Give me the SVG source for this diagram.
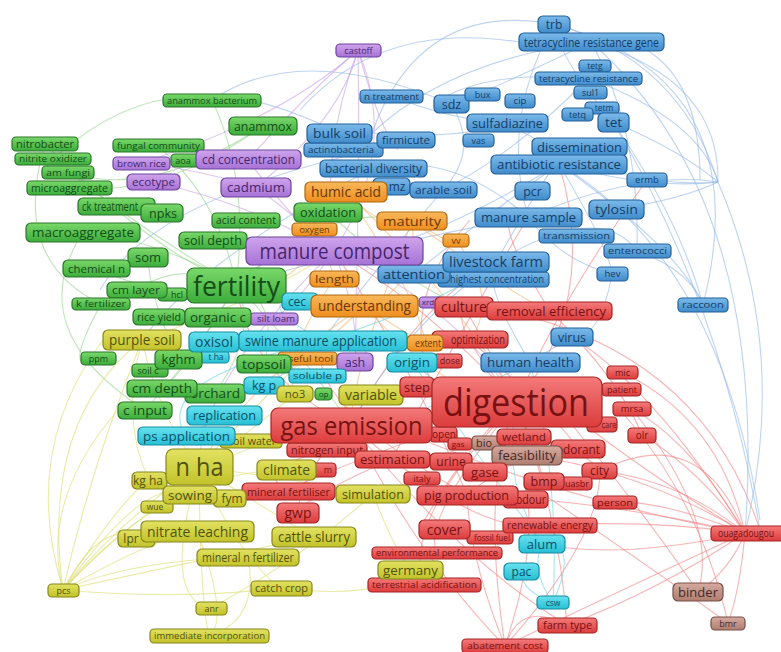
<svg xmlns="http://www.w3.org/2000/svg" width="781" height="652" viewBox="0 0 781 652">
<defs>
<linearGradient id="gR" x1="0" y1="0" x2="0" y2="1"><stop offset="0" stop-color="#f47a7a"/><stop offset="1" stop-color="#dc3c3c"/></linearGradient>
<linearGradient id="gB" x1="0" y1="0" x2="0" y2="1"><stop offset="0" stop-color="#7cbaea"/><stop offset="1" stop-color="#3f8bcb"/></linearGradient>
<linearGradient id="gG" x1="0" y1="0" x2="0" y2="1"><stop offset="0" stop-color="#7ad86a"/><stop offset="1" stop-color="#3bac3b"/></linearGradient>
<linearGradient id="gY" x1="0" y1="0" x2="0" y2="1"><stop offset="0" stop-color="#e2e262"/><stop offset="1" stop-color="#c2c22a"/></linearGradient>
<linearGradient id="gP" x1="0" y1="0" x2="0" y2="1"><stop offset="0" stop-color="#cfa4ec"/><stop offset="1" stop-color="#a672d6"/></linearGradient>
<linearGradient id="gO" x1="0" y1="0" x2="0" y2="1"><stop offset="0" stop-color="#f9b85a"/><stop offset="1" stop-color="#ef8e1e"/></linearGradient>
<linearGradient id="gC" x1="0" y1="0" x2="0" y2="1"><stop offset="0" stop-color="#66e2f0"/><stop offset="1" stop-color="#27bfd4"/></linearGradient>
<linearGradient id="gN" x1="0" y1="0" x2="0" y2="1"><stop offset="0" stop-color="#d6aaa0"/><stop offset="1" stop-color="#ae7e70"/></linearGradient>
</defs>
<style>
text{font-family:"Open Sans","Liberation Sans",sans-serif;text-anchor:middle}
rect{stroke-width:1.2}
.r rect{fill:url(#gR);stroke:#a52424}.r text{fill:#781212}
.b rect{fill:url(#gB);stroke:#23609a}.b text{fill:#143e68}
.g rect{fill:url(#gG);stroke:#287628}.g text{fill:#134d17}
.y rect{fill:url(#gY);stroke:#86861a}.y text{fill:#525210}
.p rect{fill:url(#gP);stroke:#6c449c}.p text{fill:#46266c}
.o rect{fill:url(#gO);stroke:#ad6810}.o text{fill:#683808}
.c rect{fill:url(#gC);stroke:#168ca0}.c text{fill:#0b5066}
.n rect{fill:url(#gN);stroke:#764e46}.n text{fill:#482824}
#edges path{fill:none;stroke-width:1.1;stroke-opacity:.6}
.er{stroke:#f08484}.eb{stroke:#92b8e6}.eg{stroke:#94d48c}.ey{stroke:#dcdc6e}.ep{stroke:#c9a0ea}.eo{stroke:#f4b46c}.ec{stroke:#6cd6e6}
</style>
<rect width="781" height="652" fill="#ffffff"/>
<g id="edges">
<path class="er" d="M745,533 Q640,470 560,405"/>
<path class="er" d="M745,533 Q680,480 600,471"/>
<path class="er" d="M745,533 Q700,470 642,435"/>
<path class="er" d="M745,533 Q690,440 632,409"/>
<path class="er" d="M745,533 Q560,500 400,430"/>
<path class="er" d="M745,533 Q650,520 550,525"/>
<path class="er" d="M745,533 Q730,570 698,592"/>
<path class="er" d="M745,533 Q740,590 728,623"/>
<path class="er" d="M745,533 Q600,500 470,495"/>
<path class="er" d="M745,533 Q640,470 527,455"/>
<path class="er" d="M745,533 Q660,500 615,502"/>
<path class="er" d="M745,533 Q660,590 567,625"/>
<path class="er" d="M745,533 Q600,600 505,646"/>
<path class="er" d="M745,533 Q620,560 542,544"/>
<path class="er" d="M745,533 Q650,380 560,330"/>
<path class="er" d="M745,533 Q720,420 622,372"/>
<path class="er" d="M500,310 Q700,350 760,530"/>
<path class="er" d="M560,410 Q650,520 698,592"/>
<path class="er" d="M620,410 Q700,500 728,623"/>
<path class="er" d="M632,409 Q720,520 698,592"/>
<path class="er" d="M517,402 Q470,440 420,528"/>
<path class="er" d="M517,402 Q480,480 505,646"/>
<path class="er" d="M517,402 Q560,520 567,625"/>
<path class="er" d="M517,402 Q400,520 424,585"/>
<path class="er" d="M517,402 Q420,520 437,553"/>
<path class="er" d="M517,402 Q300,480 288,491"/>
<path class="er" d="M517,402 Q450,330 464,307"/>
<path class="er" d="M351,425 Q420,560 505,646"/>
<path class="er" d="M351,425 Q460,560 567,625"/>
<path class="er" d="M351,425 Q480,540 550,525"/>
<path class="er" d="M351,425 Q300,470 298,513"/>
<path class="er" d="M467,495 Q420,380 334,251"/>
<path class="er" d="M517,402 Q420,300 334,251"/>
<path class="er" d="M550,311 Q480,200 528,217"/>
<path class="er" d="M467,495 Q560,420 600,471"/>
<path class="er" d="M505,646 Q470,560 467,495"/>
<path class="er" d="M505,646 Q540,540 524,481"/>
<path class="er" d="M505,646 Q600,540 600,471"/>
<path class="er" d="M567,625 Q520,600 505,646"/>
<path class="er" d="M430,380 Q400,300 470,220"/>
<path class="er" d="M392,459 Q300,500 298,513"/>
<path class="er" d="M327,450 Q250,470 288,491"/>
<path class="er" d="M550,311 Q620,380 642,435"/>
<path class="er" d="M470,340 Q560,420 578,449"/>
<path class="er" d="M464,307 Q520,400 544,481"/>
<path class="er" d="M351,425 Q250,380 236,285"/>
<path class="er" d="M351,425 Q420,300 496,262"/>
<path class="er" d="M467,495 Q300,400 323,341"/>
<path class="er" d="M517,402 Q600,300 559,164"/>
<path class="er" d="M392,459 Q450,350 528,217"/>
<path class="er" d="M517,402 Q560,300 647,180"/>
<path class="er" d="M600,471 Q700,420 745,533"/>
<path class="er" d="M524,481 Q640,560 728,623"/>
<path class="eb" d="M554,24 Q680,60 718,182"/>
<path class="eb" d="M591,42 Q720,80 718,182"/>
<path class="eb" d="M588,78 Q700,120 718,182"/>
<path class="eb" d="M559,164 Q650,190 718,182"/>
<path class="eb" d="M613,122 Q680,150 718,182"/>
<path class="eb" d="M616,209 Q680,200 718,182"/>
<path class="eb" d="M507,123 Q620,190 718,182"/>
<path class="eb" d="M528,217 Q640,170 718,182"/>
<path class="eb" d="M519,42 Q380,20 300,110"/>
<path class="eb" d="M554,24 Q420,0 372,133"/>
<path class="eb" d="M591,42 Q450,60 372,133"/>
<path class="eb" d="M591,42 Q470,100 451,104"/>
<path class="eb" d="M588,78 Q480,70 434,104"/>
<path class="eb" d="M613,122 Q560,60 554,24"/>
<path class="eb" d="M613,122 Q680,220 703,305"/>
<path class="eb" d="M559,164 Q680,250 703,305"/>
<path class="eb" d="M637,251 Q690,270 703,305"/>
<path class="eb" d="M559,164 Q610,250 612,274"/>
<path class="eb" d="M496,262 Q600,200 637,251"/>
<path class="eb" d="M528,217 Q560,260 612,274"/>
<path class="eb" d="M496,262 Q560,150 559,164"/>
<path class="eb" d="M372,133 Q460,140 507,123"/>
<path class="eb" d="M392,96 Q450,120 507,123"/>
<path class="eb" d="M373,168 Q450,150 528,217"/>
<path class="eb" d="M451,104 Q480,150 443,190"/>
<path class="eb" d="M559,164 Q480,220 414,274"/>
<path class="eb" d="M530,362 Q600,320 572,337"/>
<path class="eb" d="M530,362 Q480,280 496,262"/>
<path class="eb" d="M718,182 Q790,350 745,533"/>
<path class="eb" d="M340,133 Q250,90 212,100"/>
<path class="eb" d="M372,150 Q150,200 100,290"/>
<path class="eb" d="M373,168 Q200,260 142,340"/>
<path class="eb" d="M588,78 Q520,150 443,190"/>
<path class="eb" d="M591,42 Q640,130 637,251"/>
<path class="eb" d="M554,24 Q500,120 528,217"/>
<path class="eb" d="M612,274 Q600,340 572,337"/>
<path class="eb" d="M519,42 Q700,0 700,180"/>
<path class="eb" d="M554,24 Q760,80 703,305"/>
<path class="eb" d="M591,42 Q770,200 745,533"/>
<path class="eb" d="M613,122 Q720,300 760,530"/>
<path class="eb" d="M559,164 Q720,260 760,520"/>
<path class="eb" d="M496,262 Q400,330 351,425"/>
<path class="eb" d="M530,362 Q420,420 351,425"/>
<path class="eb" d="M528,217 Q350,250 236,285"/>
<path class="eb" d="M443,190 Q350,300 323,341"/>
<path class="eb" d="M559,164 Q400,260 334,251"/>
<path class="eb" d="M451,104 Q300,40 212,100"/>
<path class="eg" d="M53,159 Q140,80 230,102"/>
<path class="eg" d="M45,144 Q150,250 236,285"/>
<path class="eg" d="M53,159 Q140,230 236,285"/>
<path class="eg" d="M68,172 Q150,200 263,126"/>
<path class="eg" d="M70,187 Q160,200 263,126"/>
<path class="eg" d="M83,232 Q160,240 236,285"/>
<path class="eg" d="M96,268 Q160,300 236,285"/>
<path class="eg" d="M137,290 Q180,260 236,285"/>
<path class="eg" d="M158,146 Q220,200 236,285"/>
<path class="eg" d="M328,212 Q280,250 236,285"/>
<path class="eg" d="M236,285 Q180,380 162,388"/>
<path class="eg" d="M236,285 Q200,350 145,410"/>
<path class="eg" d="M83,232 Q20,330 145,410"/>
<path class="eg" d="M178,358 Q150,300 148,257"/>
<path class="eg" d="M215,393 Q260,330 236,285"/>
<path class="eg" d="M264,364 Q280,300 236,285"/>
<path class="eg" d="M212,100 Q250,180 236,285"/>
<path class="eg" d="M101,304 Q60,380 98,358"/>
<path class="eg" d="M45,144 Q10,260 101,304"/>
<path class="eg" d="M236,285 Q300,350 351,425"/>
<path class="eg" d="M236,285 Q330,200 412,221"/>
<path class="eg" d="M328,212 Q400,280 464,307"/>
<path class="ey" d="M63,590 Q120,520 199,467"/>
<path class="ey" d="M63,590 Q150,540 197,531"/>
<path class="ey" d="M63,590 Q100,520 136,538"/>
<path class="ey" d="M63,590 Q120,500 149,480"/>
<path class="ey" d="M63,590 Q130,560 248,557"/>
<path class="ey" d="M63,590 Q180,600 281,588"/>
<path class="ey" d="M63,590 Q200,560 314,537"/>
<path class="ey" d="M63,590 Q150,470 190,495"/>
<path class="ey" d="M63,590 Q170,470 286,470"/>
<path class="ey" d="M63,590 Q90,470 142,340"/>
<path class="ey" d="M63,590 Q110,540 157,507"/>
<path class="ey" d="M63,590 Q20,450 103,340"/>
<path class="ey" d="M63,590 Q40,500 118,410"/>
<path class="ey" d="M199,467 Q240,560 281,588"/>
<path class="ey" d="M199,467 Q160,600 211,608"/>
<path class="ey" d="M199,467 Q200,600 209,636"/>
<path class="ey" d="M197,531 Q230,620 209,636"/>
<path class="ey" d="M248,557 Q260,620 209,636"/>
<path class="ey" d="M199,467 Q300,480 373,494"/>
<path class="ey" d="M199,467 Q300,530 314,537"/>
<path class="ey" d="M142,340 Q160,420 199,467"/>
<path class="ey" d="M142,340 Q120,420 149,480"/>
<path class="ey" d="M295,394 Q240,440 199,467"/>
<path class="ey" d="M371,395 Q280,440 199,467"/>
<path class="ey" d="M373,494 Q390,540 410,570"/>
<path class="ey" d="M142,340 Q40,420 63,590"/>
<path class="ey" d="M211,608 Q300,560 373,494"/>
<path class="ey" d="M281,588 Q380,600 410,570"/>
<path class="ey" d="M199,467 Q280,380 323,341"/>
<path class="ey" d="M142,340 Q260,300 334,251"/>
<path class="ep" d="M358,50 Q320,150 334,251"/>
<path class="ep" d="M358,50 Q340,120 256,187"/>
<path class="ep" d="M358,50 Q300,100 248,160"/>
<path class="ep" d="M358,50 Q400,150 334,251"/>
<path class="ep" d="M358,50 Q360,150 355,362"/>
<path class="ep" d="M358,50 Q280,120 141,163"/>
<path class="ep" d="M358,50 Q380,130 398,150"/>
<path class="ep" d="M256,187 Q300,220 334,251"/>
<path class="ep" d="M248,160 Q300,230 334,251"/>
<path class="ep" d="M153,182 Q240,200 334,251"/>
<path class="ep" d="M334,251 Q300,300 274,319"/>
<path class="ep" d="M334,251 Q360,320 355,362"/>
<path class="ep" d="M141,163 Q200,170 256,187"/>
<path class="ep" d="M334,251 Q450,300 517,402"/>
<path class="ep" d="M334,251 Q200,380 199,467"/>
<path class="eo" d="M346,192 Q380,230 412,221"/>
<path class="eo" d="M412,221 Q420,290 364,306"/>
<path class="eo" d="M364,306 Q400,330 425,343"/>
<path class="eo" d="M346,192 Q420,300 425,343"/>
<path class="eo" d="M314,229 Q330,260 334,279"/>
<path class="eo" d="M412,221 Q480,260 456,240"/>
<path class="eo" d="M307,358 Q340,330 364,306"/>
<path class="eo" d="M364,306 Q450,400 517,402"/>
<path class="eo" d="M346,192 Q460,300 517,402"/>
<path class="eo" d="M412,221 Q520,300 550,311"/>
<path class="eo" d="M334,279 Q280,360 295,394"/>
<path class="eo" d="M456,240 Q500,300 470,340"/>
<path class="eo" d="M346,192 Q300,300 236,285"/>
<path class="eo" d="M412,221 Q350,380 351,425"/>
<path class="eo" d="M364,306 Q250,380 199,467"/>
<path class="ec" d="M553,603 Q530,570 542,544"/>
<path class="ec" d="M553,603 Q520,590 521,571"/>
<path class="ec" d="M553,603 Q580,540 542,544"/>
<path class="ec" d="M542,544 Q500,480 517,402"/>
<path class="ec" d="M323,341 Q280,380 264,385"/>
<path class="ec" d="M323,341 Q250,300 300,301"/>
<path class="ec" d="M214,342 Q260,330 323,341"/>
<path class="ec" d="M186,436 Q250,400 224,415"/>
<path class="ec" d="M412,362 Q360,330 323,341"/>
<path class="ec" d="M542,544 Q460,430 412,362"/>
<path class="ec" d="M323,341 Q150,380 186,436"/>
<path class="ec" d="M553,603 Q560,480 530,362"/>
<path class="ec" d="M323,341 Q450,300 496,262"/>
<path class="ec" d="M412,362 Q480,420 517,402"/>
</g>
<g id="nodes">
<g id="n-trb" class="b"><rect x="538" y="16" width="32" height="17" rx="5"/><text x="554" y="28.8" font-size="12">trb</text></g>
<g id="n-tetracycline-resistance-gene" class="b"><rect x="519" y="33" width="145" height="18" rx="5"/><text x="591.5" y="46.5" font-size="12.5" textLength="135" lengthAdjust="spacingAndGlyphs">tetracycline resistance gene</text></g>
<g id="n-tetg" class="b"><rect x="579" y="60" width="32" height="12" rx="4"/><text x="595" y="69.1" font-size="8.5">tetg</text></g>
<g id="n-tetracycline-resistance" class="b"><rect x="535" y="72" width="107" height="13" rx="4"/><text x="588.5" y="81.7" font-size="9" textLength="99" lengthAdjust="spacingAndGlyphs">tetracycline resistance</text></g>
<g id="n-sul1" class="b"><rect x="574" y="86" width="33" height="13" rx="4"/><text x="590.5" y="95.7" font-size="9">sul1</text></g>
<g id="n-tetm" class="b"><rect x="585" y="102" width="34" height="12" rx="4"/><text x="604" y="110.6" font-size="8.5">tetm</text></g>
<g id="n-tetq" class="b"><rect x="562" y="108" width="31" height="13" rx="4"/><text x="577.5" y="117.7" font-size="9">tetq</text></g>
<g id="n-tet" class="b"><rect x="598" y="113" width="31" height="19" rx="5"/><text x="613.5" y="127.4" font-size="13.5">tet</text></g>
<g id="n-n-treatment" class="b"><rect x="360" y="90" width="63" height="13" rx="4"/><text x="391.5" y="99.7" font-size="9" textLength="55" lengthAdjust="spacingAndGlyphs">n treatment</text></g>
<g id="n-sdz" class="b"><rect x="434" y="95" width="35" height="18" rx="5"/><text x="451.5" y="108.5" font-size="12.5">sdz</text></g>
<g id="n-bux" class="b"><rect x="465" y="88" width="35" height="13" rx="4"/><text x="482.5" y="97.7" font-size="9">bux</text></g>
<g id="n-cip" class="b"><rect x="505" y="94" width="30" height="14" rx="4"/><text x="520" y="104.4" font-size="9.5">cip</text></g>
<g id="n-sulfadiazine" class="b"><rect x="467" y="114" width="81" height="18" rx="5"/><text x="507.5" y="127.5" font-size="12.5" textLength="71" lengthAdjust="spacingAndGlyphs">sulfadiazine</text></g>
<g id="n-vas" class="b"><rect x="463" y="134" width="31" height="13" rx="4"/><text x="478.5" y="143.7" font-size="9">vas</text></g>
<g id="n-dissemination" class="b"><rect x="532" y="138" width="95" height="18" rx="5"/><text x="579.5" y="151.5" font-size="12.5" textLength="85" lengthAdjust="spacingAndGlyphs">dissemination</text></g>
<g id="n-antibiotic-resistance" class="b"><rect x="491" y="155" width="136" height="19" rx="5"/><text x="559" y="169.4" font-size="13.5" textLength="124" lengthAdjust="spacingAndGlyphs">antibiotic resistance</text></g>
<g id="n-actinobacteria" class="b"><rect x="304" y="143" width="79" height="14" rx="4"/><text x="341" y="153.4" font-size="9.5" textLength="66" lengthAdjust="spacingAndGlyphs">actinobacteria</text></g>
<g id="n-bulk-soil" class="b"><rect x="307" y="124" width="65" height="19" rx="5"/><text x="339.5" y="138.4" font-size="13.5" textLength="53" lengthAdjust="spacingAndGlyphs">bulk soil</text></g>
<g id="n-firmicute" class="b"><rect x="377" y="132" width="58" height="16" rx="5"/><text x="406" y="144" font-size="11" textLength="48" lengthAdjust="spacingAndGlyphs">firmicute</text></g>
<g id="n-bacterial-diversity" class="b"><rect x="320" y="160" width="107" height="17" rx="5"/><text x="373.5" y="172.8" font-size="12" textLength="97" lengthAdjust="spacingAndGlyphs">bacterial diversity</text></g>
<g id="n-mz" class="b"><rect x="373" y="178" width="37" height="17" rx="5"/><text x="397" y="190.8" font-size="12">mz</text></g>
<g id="n-arable-soil" class="b"><rect x="410" y="182" width="67" height="16" rx="5"/><text x="443.5" y="194" font-size="11" textLength="57" lengthAdjust="spacingAndGlyphs">arable soil</text></g>
<g id="n-pcr" class="b"><rect x="515" y="182" width="35" height="18" rx="5"/><text x="532.5" y="195.5" font-size="12.5">pcr</text></g>
<g id="n-ermb" class="b"><rect x="627" y="173" width="40" height="14" rx="4"/><text x="647" y="183.4" font-size="9.5">ermb</text></g>
<g id="n-manure-sample" class="b"><rect x="475" y="208" width="107" height="19" rx="5"/><text x="528.5" y="222.4" font-size="13.5" textLength="95" lengthAdjust="spacingAndGlyphs">manure sample</text></g>
<g id="n-tylosin" class="b"><rect x="589" y="200" width="55" height="19" rx="5"/><text x="616.5" y="214.4" font-size="13.5" textLength="43" lengthAdjust="spacingAndGlyphs">tylosin</text></g>
<g id="n-transmission" class="b"><rect x="539" y="229" width="75" height="14" rx="4"/><text x="576.5" y="239.4" font-size="9.5" textLength="67" lengthAdjust="spacingAndGlyphs">transmission</text></g>
<g id="n-enterococci" class="b"><rect x="604" y="244" width="67" height="14" rx="4"/><text x="637.5" y="254.4" font-size="9.5" textLength="59" lengthAdjust="spacingAndGlyphs">enterococci</text></g>
<g id="n-highest-concentration" class="b"><rect x="438" y="272" width="111" height="15" rx="4"/><text x="497" y="283.1" font-size="10" textLength="94" lengthAdjust="spacingAndGlyphs">highest concentration</text></g>
<g id="n-attention" class="b"><rect x="378" y="265" width="72" height="18" rx="5"/><text x="414" y="278.5" font-size="12.5" textLength="62" lengthAdjust="spacingAndGlyphs">attention</text></g>
<g id="n-livestock-farm" class="b"><rect x="443" y="252" width="106" height="20" rx="5"/><text x="496" y="267" font-size="14" textLength="94" lengthAdjust="spacingAndGlyphs">livestock farm</text></g>
<g id="n-hev" class="b"><rect x="597" y="267" width="31" height="14" rx="4"/><text x="612.5" y="277.4" font-size="9.5">hev</text></g>
<g id="n-raccoon" class="b"><rect x="678" y="298" width="50" height="14" rx="4"/><text x="703" y="308.4" font-size="9.5" textLength="42" lengthAdjust="spacingAndGlyphs">raccoon</text></g>
<g id="n-virus" class="b"><rect x="551" y="328" width="42" height="18" rx="5"/><text x="572" y="341.5" font-size="12.5">virus</text></g>
<g id="n-human-health" class="b"><rect x="481" y="353" width="99" height="19" rx="5"/><text x="530.5" y="367.4" font-size="13.5" textLength="87" lengthAdjust="spacingAndGlyphs">human health</text></g>

<g id="n-anammox-bacterium" class="g"><rect x="163" y="94" width="98" height="13" rx="4"/><text x="212" y="103.7" font-size="9" textLength="90" lengthAdjust="spacingAndGlyphs">anammox bacterium</text></g>
<g id="n-anammox" class="g"><rect x="229" y="117" width="68" height="18" rx="5"/><text x="263" y="130.5" font-size="12.5" textLength="58" lengthAdjust="spacingAndGlyphs">anammox</text></g>
<g id="n-nitrobacter" class="g"><rect x="12" y="137" width="66" height="14" rx="4"/><text x="45" y="147.6" font-size="10" textLength="58" lengthAdjust="spacingAndGlyphs">nitrobacter</text></g>
<g id="n-nitrite-oxidizer" class="g"><rect x="15" y="153" width="76" height="12" rx="4"/><text x="53" y="162.1" font-size="8.5" textLength="68" lengthAdjust="spacingAndGlyphs">nitrite oxidizer</text></g>
<g id="n-fungal-community" class="g"><rect x="113" y="139" width="91" height="13" rx="4"/><text x="158.5" y="148.7" font-size="9" textLength="83" lengthAdjust="spacingAndGlyphs">fungal community</text></g>
<g id="n-aoa" class="g"><rect x="171" y="154" width="30" height="13" rx="4"/><text x="183" y="163.7" font-size="9">aoa</text></g>
<g id="n-am-fungi" class="g"><rect x="42" y="166" width="52" height="13" rx="4"/><text x="68" y="175.7" font-size="9" textLength="44" lengthAdjust="spacingAndGlyphs">am fungi</text></g>
<g id="n-microaggregate" class="g"><rect x="27" y="181" width="85" height="14" rx="4"/><text x="69.5" y="191.6" font-size="10" textLength="77" lengthAdjust="spacingAndGlyphs">microaggregate</text></g>
<g id="n-ck-treatment" class="g"><rect x="78" y="198" width="77" height="17" rx="5"/><text x="110" y="210.8" font-size="12" textLength="56" lengthAdjust="spacingAndGlyphs">ck treatment</text></g>
<g id="n-npks" class="g"><rect x="141" y="204" width="42" height="18" rx="5"/><text x="163" y="217.5" font-size="12.5">npks</text></g>
<g id="n-macroaggregate" class="g"><rect x="26" y="223" width="114" height="19" rx="5"/><text x="83" y="237.4" font-size="13.5" textLength="102" lengthAdjust="spacingAndGlyphs">macroaggregate</text></g>
<g id="n-acid-content" class="g"><rect x="212" y="213" width="68" height="15" rx="4"/><text x="246" y="224.1" font-size="10" textLength="60" lengthAdjust="spacingAndGlyphs">acid content</text></g>
<g id="n-soil-depth" class="g"><rect x="179" y="232" width="68" height="17" rx="5"/><text x="213" y="244.8" font-size="12" textLength="58" lengthAdjust="spacingAndGlyphs">soil depth</text></g>
<g id="n-oxidation" class="g"><rect x="294" y="203" width="68" height="19" rx="5"/><text x="328" y="217.2" font-size="13" textLength="56" lengthAdjust="spacingAndGlyphs">oxidation</text></g>
<g id="n-som" class="g"><rect x="128" y="248" width="40" height="19" rx="5"/><text x="148" y="262.2" font-size="13">som</text></g>
<g id="n-chemical-n" class="g"><rect x="63" y="260" width="67" height="17" rx="5"/><text x="96.5" y="272.6" font-size="11.5" textLength="57" lengthAdjust="spacingAndGlyphs">chemical n</text></g>
<g id="n-hcl" class="g"><rect x="158" y="288" width="29" height="13" rx="4"/><text x="177" y="297.7" font-size="9">hcl</text></g>
<g id="n-cm-layer" class="g"><rect x="107" y="282" width="60" height="16" rx="5"/><text x="136" y="294" font-size="11" textLength="48" lengthAdjust="spacingAndGlyphs">cm layer</text></g>
<g id="n-k-fertilizer" class="g"><rect x="72" y="298" width="58" height="12" rx="4"/><text x="101" y="307.1" font-size="8.5" textLength="50" lengthAdjust="spacingAndGlyphs">k fertilizer</text></g>
<g id="n-rice-yield" class="g"><rect x="133" y="309" width="52" height="16" rx="5"/><text x="159" y="321" font-size="11" textLength="44" lengthAdjust="spacingAndGlyphs">rice yield</text></g>
<g id="n-silt-loam" class="p"><rect x="250" y="313" width="48" height="12" rx="4"/><text x="276" y="322.1" font-size="8.5" textLength="38" lengthAdjust="spacingAndGlyphs">silt loam</text></g>
<g id="n-organic-c" class="g"><rect x="185" y="308" width="66" height="19" rx="5"/><text x="218" y="322.2" font-size="13" textLength="56" lengthAdjust="spacingAndGlyphs">organic c</text></g>
<g id="n-fertility" class="g"><rect x="187" y="268" width="99" height="35" rx="7"/><text x="236.5" y="295.5" font-size="28" textLength="87" lengthAdjust="spacingAndGlyphs">fertility</text></g>
<g id="n-ppm" class="g"><rect x="81" y="352" width="35" height="13" rx="4"/><text x="98.5" y="361.7" font-size="9">ppm</text></g>
<g id="n-soil-c" class="g"><rect x="132" y="364" width="36" height="13" rx="4"/><text x="148" y="373.7" font-size="9">soil c</text></g>
<g id="n-t-ha" class="c"><rect x="200" y="351" width="29" height="12" rx="4"/><text x="216" y="360.1" font-size="8.5">t ha</text></g>
<g id="n-kghm" class="g"><rect x="155" y="350" width="47" height="19" rx="5"/><text x="178.5" y="364.2" font-size="13">kghm</text></g>
<g id="n-useful-tool" class="o"><rect x="278" y="352" width="59" height="13" rx="4"/><text x="307.5" y="361.7" font-size="9" textLength="51" lengthAdjust="spacingAndGlyphs">useful tool</text></g>
<g id="n-topsoil" class="g"><rect x="237" y="355" width="54" height="18" rx="5"/><text x="264" y="368.5" font-size="12.5" textLength="44" lengthAdjust="spacingAndGlyphs">topsoil</text></g>
<g id="n-op" class="g"><rect x="315" y="388" width="17" height="12" rx="4"/><text x="323.5" y="396.9" font-size="8">op</text></g>
<g id="n-orchard" class="g"><rect x="185" y="384" width="60" height="19" rx="5"/><text x="215" y="398.2" font-size="13" textLength="50" lengthAdjust="spacingAndGlyphs">orchard</text></g>
<g id="n-cm-depth" class="g"><rect x="127" y="380" width="70" height="17" rx="5"/><text x="162" y="392.8" font-size="12" textLength="60" lengthAdjust="spacingAndGlyphs">cm depth</text></g>
<g id="n-c-input" class="g"><rect x="118" y="402" width="54" height="17" rx="5"/><text x="145" y="414.8" font-size="12" textLength="44" lengthAdjust="spacingAndGlyphs">c input</text></g>

<g id="n-castoff" class="p"><rect x="336" y="44" width="45" height="13" rx="4"/><text x="358.5" y="53.7" font-size="9">castoff</text></g>
<g id="n-brown-rice" class="p"><rect x="113" y="157" width="57" height="13" rx="4"/><text x="141.5" y="166.7" font-size="9" textLength="49" lengthAdjust="spacingAndGlyphs">brown rice</text></g>
<g id="n-cd-concentration" class="p"><rect x="196" y="150" width="105" height="19" rx="5"/><text x="248.5" y="164.4" font-size="13.5" textLength="93" lengthAdjust="spacingAndGlyphs">cd concentration</text></g>
<g id="n-ecotype" class="p"><rect x="127" y="174" width="53" height="16" rx="5"/><text x="153.5" y="186" font-size="11" textLength="43" lengthAdjust="spacingAndGlyphs">ecotype</text></g>
<g id="n-cadmium" class="p"><rect x="221" y="178" width="70" height="19" rx="5"/><text x="256" y="192.4" font-size="13.5" textLength="58" lengthAdjust="spacingAndGlyphs">cadmium</text></g>
<g id="n-xrd" class="p"><rect x="419" y="297" width="24" height="11" rx="4"/><text x="428" y="305.4" font-size="8">xrd</text></g>
<g id="n-ash" class="p"><rect x="337" y="353" width="36" height="18" rx="5"/><text x="355" y="366.5" font-size="12.5">ash</text></g>

<g id="n-humic-acid" class="o"><rect x="305" y="182" width="82" height="20" rx="5"/><text x="346" y="197" font-size="14" textLength="70" lengthAdjust="spacingAndGlyphs">humic acid</text></g>
<g id="n-maturity" class="o"><rect x="377" y="212" width="70" height="18" rx="5"/><text x="412" y="225.7" font-size="13" textLength="58" lengthAdjust="spacingAndGlyphs">maturity</text></g>
<g id="n-oxygen" class="o"><rect x="292" y="223" width="45" height="13" rx="4"/><text x="314.5" y="232.7" font-size="9">oxygen</text></g>
<g id="n-vv" class="o"><rect x="443" y="234" width="26" height="13" rx="4"/><text x="456" y="243.7" font-size="9">vv</text></g>
<g id="n-manure-compost" class="p"><rect x="246" y="237" width="177" height="28" rx="6"/><text x="334.5" y="258.6" font-size="21" textLength="150" lengthAdjust="spacingAndGlyphs">manure compost</text></g>
<g id="n-length" class="o"><rect x="310" y="271" width="49" height="16" rx="5"/><text x="334.5" y="283" font-size="11" textLength="39" lengthAdjust="spacingAndGlyphs">length</text></g>
<g id="n-cec" class="c"><rect x="282" y="293" width="36" height="17" rx="5"/><text x="297" y="305.8" font-size="12">cec</text></g>
<g id="n-understanding" class="o"><rect x="311" y="295" width="107" height="22" rx="6"/><text x="364.5" y="311.4" font-size="15" textLength="93" lengthAdjust="spacingAndGlyphs">understanding</text></g>
<g id="n-optimization" class="r"><rect x="432" y="331" width="76" height="17" rx="5"/><text x="478" y="343.8" font-size="12" textLength="54" lengthAdjust="spacingAndGlyphs">optimization</text></g>
<g id="n-extent" class="o"><rect x="407" y="335" width="36" height="16" rx="5"/><text x="428" y="347" font-size="11" textLength="26" lengthAdjust="spacingAndGlyphs">extent</text></g>

<g id="n-oxisol" class="c"><rect x="189" y="332" width="50" height="20" rx="5"/><text x="214" y="347" font-size="14">oxisol</text></g>
<g id="n-swine-manure-application" class="c"><rect x="239" y="331" width="168" height="20" rx="5"/><text x="321" y="346.2" font-size="14.5" textLength="152" lengthAdjust="spacingAndGlyphs">swine manure application</text></g>
<g id="n-dose" class="r"><rect x="433" y="354" width="29" height="14" rx="4"/><text x="450" y="364.2" font-size="9">dose</text></g>
<g id="n-origin" class="c"><rect x="387" y="353" width="50" height="19" rx="5"/><text x="412" y="367.4" font-size="13.5">origin</text></g>
<g id="n-soluble-p" class="c"><rect x="289" y="369" width="57" height="14" rx="4"/><text x="317.5" y="379.4" font-size="9.5" textLength="49" lengthAdjust="spacingAndGlyphs">soluble p</text></g>
<g id="n-kg-p" class="c"><rect x="244" y="377" width="40" height="17" rx="5"/><text x="264" y="389.9" font-size="12.5">kg p</text></g>
<g id="n-replication" class="c"><rect x="187" y="406" width="75" height="19" rx="5"/><text x="224.5" y="420.4" font-size="13.5" textLength="63" lengthAdjust="spacingAndGlyphs">replication</text></g>

<g id="n-purple-soil" class="y"><rect x="103" y="330" width="78" height="20" rx="5"/><text x="142" y="345" font-size="14" textLength="66" lengthAdjust="spacingAndGlyphs">purple soil</text></g>
<g id="n-no3" class="y"><rect x="277" y="386" width="36" height="16" rx="5"/><text x="295" y="398.1" font-size="11.5">no3</text></g>
<g id="n-variable" class="y"><rect x="339" y="385" width="64" height="20" rx="5"/><text x="371" y="400" font-size="14" textLength="52" lengthAdjust="spacingAndGlyphs">variable</text></g>
<g id="n-soil-water" class="y"><rect x="220" y="434" width="62" height="14" rx="4"/><text x="252" y="444.6" font-size="10" textLength="48" lengthAdjust="spacingAndGlyphs">soil water</text></g>
<g id="n-ps-application" class="c"><rect x="138" y="427" width="97" height="18" rx="5"/><text x="186.5" y="440.7" font-size="13" textLength="87" lengthAdjust="spacingAndGlyphs">ps application</text></g>

<g id="n-step" class="r"><rect x="400" y="377" width="34" height="20" rx="5"/><text x="417" y="391.7" font-size="13">step</text></g>
<g id="n-mic" class="r"><rect x="607" y="366" width="31" height="13" rx="4"/><text x="622.5" y="375.7" font-size="9">mic</text></g>
<g id="n-patient" class="r"><rect x="602" y="383" width="39" height="13" rx="4"/><text x="622" y="392.7" font-size="9">patient</text></g>
<g id="n-mrsa" class="r"><rect x="613" y="402" width="38" height="14" rx="4"/><text x="632" y="412.4" font-size="9.5">mrsa</text></g>
<g id="n-care" class="r"><rect x="587" y="417" width="30" height="15" rx="4"/><text x="609" y="428.2" font-size="9" textLength="15" lengthAdjust="spacingAndGlyphs">care</text></g>
<g id="n-olr" class="r"><rect x="628" y="428" width="28" height="15" rx="4"/><text x="642" y="439.1" font-size="10">olr</text></g>
<g id="n-open" class="r"><rect x="430" y="427" width="27" height="15" rx="4"/><text x="444" y="438.1" font-size="10">open</text></g>
<g id="n-gas" class="r"><rect x="448" y="438" width="24" height="12" rx="4"/><text x="458" y="446.9" font-size="8">gas</text></g>
<g id="n-digestion" class="r"><rect x="432" y="377" width="170" height="50" rx="8"/><text x="516" y="415.7" font-size="38" textLength="146" lengthAdjust="spacingAndGlyphs">digestion</text></g>
<g id="n-bio" class="n"><rect x="472" y="436" width="33" height="14" rx="4"/><text x="484" y="447" font-size="11">bio</text></g>
<g id="n-wetland" class="r"><rect x="497" y="429" width="54" height="16" rx="5"/><text x="524" y="441" font-size="11" textLength="44" lengthAdjust="spacingAndGlyphs">wetland</text></g>
<g id="n-odorant" class="r"><rect x="551" y="440" width="54" height="18" rx="5"/><text x="578" y="453.5" font-size="12.5" textLength="44" lengthAdjust="spacingAndGlyphs">odorant</text></g>
<g id="n-feasibility" class="n"><rect x="492" y="446" width="70" height="19" rx="5"/><text x="527" y="460.4" font-size="13.5" textLength="58" lengthAdjust="spacingAndGlyphs">feasibility</text></g>
<g id="n-nitrogen-input" class="r"><rect x="287" y="443" width="80" height="14" rx="4"/><text x="327" y="453.6" font-size="10" textLength="72" lengthAdjust="spacingAndGlyphs">nitrogen input</text></g>
<g id="n-gas-emission" class="r"><rect x="271" y="408" width="161" height="35" rx="7"/><text x="351.5" y="434.5" font-size="25" textLength="142" lengthAdjust="spacingAndGlyphs">gas emission</text></g>
<g id="n-estimation" class="r"><rect x="355" y="451" width="75" height="17" rx="5"/><text x="392.5" y="464" font-size="12.5" textLength="65" lengthAdjust="spacingAndGlyphs">estimation</text></g>
<g id="n-urine" class="r"><rect x="430" y="453" width="42" height="17" rx="5"/><text x="451" y="465.8" font-size="12">urine</text></g>
<g id="n-gase" class="r"><rect x="463" y="463" width="44" height="18" rx="5"/><text x="485" y="476.7" font-size="13">gase</text></g>
<g id="n-m" class="r"><rect x="310" y="463" width="26" height="14" rx="4"/><text x="328" y="473.2" font-size="9">m</text></g>
<g id="n-italy" class="r"><rect x="404" y="472" width="36" height="13" rx="4"/><text x="422" y="481.7" font-size="9">italy</text></g>
<g id="n-city" class="r"><rect x="582" y="463" width="35" height="16" rx="5"/><text x="599.5" y="475.3" font-size="12">city</text></g>
<g id="n-uasbr" class="r"><rect x="557" y="477" width="35" height="13" rx="4"/><text x="577" y="486.7" font-size="9">uasbr</text></g>
<g id="n-bmp" class="r"><rect x="524" y="473" width="40" height="17" rx="5"/><text x="544" y="486" font-size="12.5">bmp</text></g>
<g id="n-mineral-fertiliser" class="r"><rect x="242" y="483" width="93" height="17" rx="5"/><text x="288.5" y="495.6" font-size="11.5" textLength="83" lengthAdjust="spacingAndGlyphs">mineral fertiliser</text></g>
<g id="n-odour" class="r"><rect x="503" y="491" width="45" height="17" rx="5"/><text x="531" y="503.8" font-size="12" textLength="30" lengthAdjust="spacingAndGlyphs">odour</text></g>
<g id="n-pig-production" class="r"><rect x="417" y="486" width="101" height="19" rx="5"/><text x="466.5" y="500.4" font-size="13.5" textLength="85" lengthAdjust="spacingAndGlyphs">pig production</text></g>
<g id="n-person" class="r"><rect x="593" y="496" width="44" height="13" rx="4"/><text x="615" y="505.7" font-size="9" textLength="36" lengthAdjust="spacingAndGlyphs">person</text></g>
<g id="n-gwp" class="r"><rect x="277" y="503" width="42" height="20" rx="5"/><text x="298" y="518" font-size="14">gwp</text></g>
<g id="n-fossil-fuel" class="r"><rect x="467" y="531" width="46" height="13" rx="4"/><text x="492" y="540.7" font-size="9" textLength="36" lengthAdjust="spacingAndGlyphs">fossil fuel</text></g>
<g id="n-renewable-energy" class="r"><rect x="503" y="518" width="94" height="15" rx="4"/><text x="550" y="529.1" font-size="10" textLength="86" lengthAdjust="spacingAndGlyphs">renewable energy</text></g>
<g id="n-cover" class="r"><rect x="419" y="520" width="51" height="19" rx="5"/><text x="444.5" y="534.5" font-size="14">cover</text></g>
<g id="n-ouagadougou" class="r"><rect x="711" y="526" width="78" height="15" rx="4"/><text x="746" y="537.1" font-size="10" textLength="56" lengthAdjust="spacingAndGlyphs">ouagadougou</text></g>
<g id="n-environmental-performance" class="r"><rect x="372" y="547" width="130" height="12" rx="4"/><text x="437" y="556.1" font-size="8.5" textLength="122" lengthAdjust="spacingAndGlyphs">environmental performance</text></g>
<g id="n-terrestrial-acidification" class="r"><rect x="368" y="578" width="113" height="14" rx="4"/><text x="424.5" y="588.2" font-size="9" textLength="105" lengthAdjust="spacingAndGlyphs">terrestrial acidification</text></g>
<g id="n-farm-type" class="r"><rect x="538" y="618" width="59" height="15" rx="4"/><text x="567.5" y="629.3" font-size="10.5" textLength="49" lengthAdjust="spacingAndGlyphs">farm type</text></g>
<g id="n-abatement-cost" class="r"><rect x="462" y="639" width="86" height="14" rx="4"/><text x="505" y="648.8" font-size="9.5" textLength="76" lengthAdjust="spacingAndGlyphs">abatement cost</text></g>
<g id="n-culture" class="r"><rect x="435" y="297" width="58" height="20" rx="5"/><text x="464" y="312" font-size="14" textLength="46" lengthAdjust="spacingAndGlyphs">culture</text></g>
<g id="n-removal-efficiency" class="r"><rect x="487" y="302" width="125" height="18" rx="5"/><text x="551" y="315.7" font-size="13" textLength="110" lengthAdjust="spacingAndGlyphs">removal efficiency</text></g>

<g id="n-binder" class="n"><rect x="673" y="583" width="50" height="18" rx="5"/><text x="698" y="596.5" font-size="12.5" textLength="40" lengthAdjust="spacingAndGlyphs">binder</text></g>
<g id="n-bmr" class="n"><rect x="711" y="617" width="34" height="13" rx="4"/><text x="728" y="626.7" font-size="9">bmr</text></g>

<g id="n-alum" class="c"><rect x="519" y="535" width="46" height="18" rx="5"/><text x="542" y="548.7" font-size="13">alum</text></g>
<g id="n-pac" class="c"><rect x="504" y="563" width="35" height="17" rx="5"/><text x="521.5" y="575.8" font-size="12">pac</text></g>
<g id="n-csw" class="c"><rect x="537" y="596" width="32" height="13" rx="4"/><text x="553" y="605.6" font-size="8.5">csw</text></g>

<g id="n-kg-ha" class="y"><rect x="132" y="472" width="35" height="17" rx="5"/><text x="148" y="484.8" font-size="12">kg ha</text></g>
<g id="n-n-ha" class="y"><rect x="166" y="449" width="67" height="36" rx="7"/><text x="199.5" y="476.4" font-size="26" textLength="48" lengthAdjust="spacingAndGlyphs">n ha</text></g>
<g id="n-wue" class="y"><rect x="141" y="501" width="32" height="12" rx="4"/><text x="155" y="510.1" font-size="8.5">wue</text></g>
<g id="n-fym" class="y"><rect x="213" y="490" width="33" height="17" rx="5"/><text x="232" y="502.8" font-size="12">fym</text></g>
<g id="n-sowing" class="y"><rect x="163" y="486" width="54" height="18" rx="5"/><text x="190" y="499.7" font-size="13" textLength="44" lengthAdjust="spacingAndGlyphs">sowing</text></g>
<g id="n-climate" class="y"><rect x="257" y="460" width="59" height="20" rx="5"/><text x="286.5" y="475" font-size="14" textLength="47" lengthAdjust="spacingAndGlyphs">climate</text></g>
<g id="n-lpr" class="y"><rect x="118" y="530" width="37" height="17" rx="5"/><text x="131" y="542.8" font-size="12">lpr</text></g>
<g id="n-nitrate-leaching" class="y"><rect x="141" y="521" width="113" height="21" rx="5"/><text x="197.5" y="536.9" font-size="15" textLength="101" lengthAdjust="spacingAndGlyphs">nitrate leaching</text></g>
<g id="n-simulation" class="y"><rect x="336" y="485" width="74" height="18" rx="5"/><text x="373" y="498.7" font-size="13" textLength="62" lengthAdjust="spacingAndGlyphs">simulation</text></g>
<g id="n-cattle-slurry" class="y"><rect x="272" y="527" width="84" height="20" rx="5"/><text x="314" y="542" font-size="14" textLength="72" lengthAdjust="spacingAndGlyphs">cattle slurry</text></g>
<g id="n-mineral-n-fertilizer" class="y"><rect x="197" y="549" width="102" height="17" rx="5"/><text x="248" y="561.8" font-size="12" textLength="92" lengthAdjust="spacingAndGlyphs">mineral n fertilizer</text></g>
<g id="n-germany" class="y"><rect x="378" y="561" width="65" height="18" rx="5"/><text x="410.5" y="574.7" font-size="13" textLength="55" lengthAdjust="spacingAndGlyphs">germany</text></g>
<g id="n-catch-crop" class="y"><rect x="251" y="581" width="61" height="15" rx="4"/><text x="281.5" y="592.3" font-size="10.5" textLength="53" lengthAdjust="spacingAndGlyphs">catch crop</text></g>
<g id="n-pcs" class="y"><rect x="48" y="584" width="31" height="13" rx="4"/><text x="63.5" y="593.7" font-size="9">pcs</text></g>
<g id="n-anr" class="y"><rect x="196" y="602" width="31" height="13" rx="4"/><text x="211.5" y="611.7" font-size="9">anr</text></g>
<g id="n-immediate-incorporation" class="y"><rect x="150" y="629" width="119" height="14" rx="4"/><text x="209.5" y="639.4" font-size="9.5" textLength="111" lengthAdjust="spacingAndGlyphs">immediate incorporation</text></g>
</g>
</svg>
